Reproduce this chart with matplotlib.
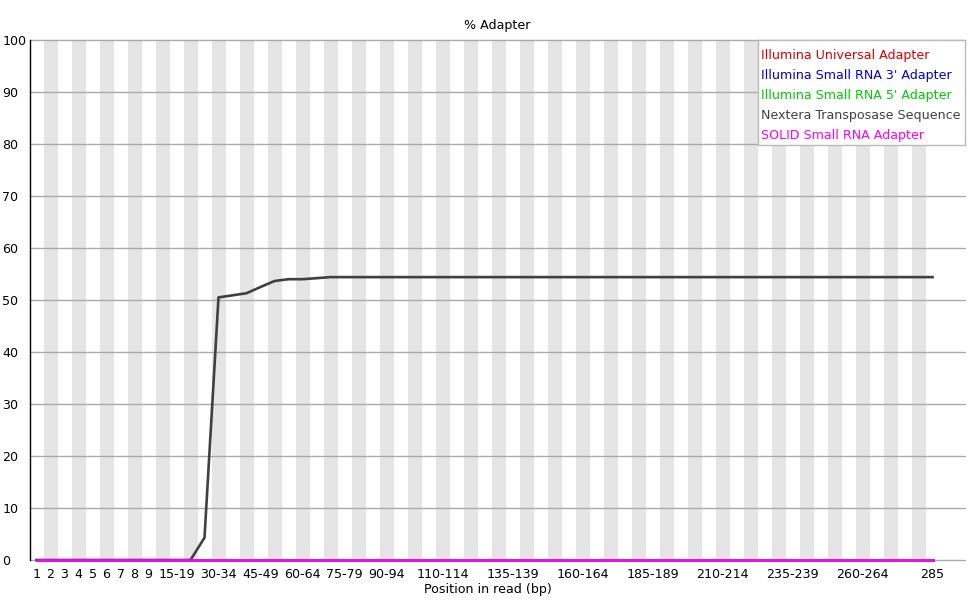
import matplotlib
matplotlib.use("Agg")
import matplotlib.pyplot as plt
from matplotlib.patches import Rectangle

# Categories (position groups)
categories = [str(i) for i in range(1, 10)] + [f"{s}-{s+4}" for s in range(10, 285, 5)] + ["285"]
shown_labels = ["1", "2", "3", "4", "5", "6", "7", "8", "9", "15-19", "30-34", "45-49",
                "60-64", "75-79", "90-94", "110-114", "135-139", "160-164", "185-189",
                "210-214", "235-239", "260-264", "285"]

series_names = ["Illumina Universal Adapter", "Illumina Small RNA 3' Adapter",
                "Illumina Small RNA 5' Adapter", "Nextera Transposase Sequence",
                "SOLID Small RNA Adapter"]
series_colors = ["#dd0000", "#0000dd", "#00cc00", "#404040", "#ff00ff"]

n = len(categories)
zeros = [0.0] * n
nextera_head = [0, 0, 0, 0, 0, 0, 0, 0, 0, 0, 0, 0, 4.3, 50.5, 50.9, 51.3, 52.5, 53.65, 54.0, 54.0, 54.2]
nextera = nextera_head + [54.4] * (n - len(nextera_head))
series_values = [zeros, zeros, zeros, nextera, zeros]

W, H = 975, 600
fig = plt.figure(figsize=(W / 100, H / 100), dpi=100)
left_px, right_px, top_px, bottom_px = 29.5, 965, 40, 560
ax = fig.add_axes([left_px / W, 1 - bottom_px / H, (right_px - left_px) / W, (bottom_px - top_px) / H])

unit = 14.0
xmax = (right_px - left_px) / unit - 0.5
ax.set_xlim(-0.5, xmax)
ax.set_ylim(0, 100)

# alternating stripes
for i in range(n):
    if i % 2 == 1:
        ax.axvspan(i - 0.5, i + 0.5, color="#e5e5e5", lw=0, zorder=0)

for y in range(0, 101, 10):
    ax.axhline(y, color="#aaaaaa", lw=1.0, zorder=1, clip_on=False)

x = list(range(n))
for name, vals, col in zip(series_names, series_values, series_colors):
    ax.plot(x, vals, color=col, lw=1.9, zorder=3, clip_on=False)

for s in ["top", "right", "bottom"]:
    ax.spines[s].set_visible(False)
ax.spines["left"].set_color("black")
ax.spines["left"].set_linewidth(1.0)

fs = 9.1
ax.set_yticks(range(0, 101, 10))
ax.set_yticklabels([str(v) for v in range(0, 101, 10)], fontsize=fs, ha="left")
ax.tick_params(axis="y", length=0, pad=19.5)

tick_pos = [categories.index(l) for l in shown_labels]
ax.set_xticks(tick_pos)
ax.set_xticklabels(shown_labels, fontsize=fs)
ax.tick_params(axis="x", length=0, pad=6)

ax.set_title("% Adapter", fontsize=fs, pad=8)
fig.text(0.5, 1 - 590 / H, "Position in read (bp)", ha="center", va="center", fontsize=fs)

# legend box
lx0, lx1, ly0, ly1 = 758, 965, 40, 145
ax.add_patch(Rectangle(((lx0 - left_px) / unit - 0.5, 100 * (bottom_px - ly1) / (bottom_px - top_px)),
                       (lx1 - lx0) / unit, 100 * (ly1 - ly0) / (bottom_px - top_px),
                       facecolor="white", edgecolor="#bbbbbb", lw=1.0, zorder=5, clip_on=False))
for k, (name, col) in enumerate(zip(series_names, series_colors)):
    ypx = 56 + 20 * k
    fig.text(761 / W, 1 - ypx / H, name, color=col, fontsize=fs, ha="left", va="center", zorder=6)

fig.savefig("out.png", dpi=100, facecolor="white")
